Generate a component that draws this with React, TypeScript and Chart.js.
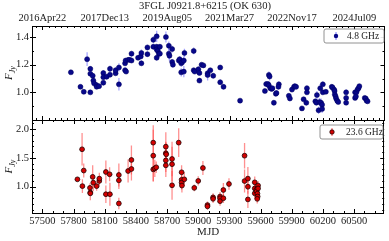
import React, { useEffect, useRef } from 'react';
import { Chart, registerables } from 'chart.js';
Chart.register(...registerables);

const TITLE = '3FGL J0921.8+6215 (OK 630)';
const X_MIN = 57400;
const X_MAX = 60790;
const MJD_TICKS = [57500, 57800, 58100, 58400, 58700, 59000, 59300, 59600, 59900, 60200, 60500];
const DATE_TICKS = [57500, 58100, 58700, 59300, 59900, 60500];
const DATE_LABELS = ['2016Apr22', '2017Dec13', '2019Aug05', '2021Mar27', '2022Nov17', '2024Jul09'];
const TOP_Y_TICKS = [1.0, 1.2, 1.4];
const TOP_Y_MINOR = [0.9, 1.1, 1.3];
const BOT_Y_TICKS = [1.0, 1.5, 2.0];
const BOT_Y_MINOR = [0.6, 0.7, 0.8, 0.9, 1.1, 1.2, 1.3, 1.4, 1.6, 1.7, 1.8, 1.9, 2.1];

// 4.8 GHz
const mjd48 = [57774, 57866, 57898, 57930, 57961, 57961, 57961, 57984, 57990, 57997, 58019, 58022, 58045, 58086, 58086, 58086, 58118, 58150, 58150, 58204, 58204, 58236, 58236, 58295, 58300, 58295, 58305, 58325, 58340, 58357, 58357, 58420, 58446, 58452, 58452, 58510, 58510, 58567, 58567, 58599, 58599, 58599, 58599, 58610, 58620, 58630, 58630, 58688, 58716, 58716, 58722, 58748, 58748, 58755, 58812, 58820, 58835, 58844, 58835, 58860, 58866, 58860, 58955, 58955, 58965, 59000, 59010, 59010, 59031, 59048, 59089, 59089, 59115, 59143, 59210, 59210, 59242, 59401, 59640, 59652, 59670, 59678, 59685, 59678, 59692, 59705, 59712, 59726, 59745, 59751, 59774, 59770, 59870, 59880, 59900, 59920, 59928, 59940, 59996, 60012, 60038, 60044, 60044, 60125, 60135, 60140, 60156, 60172, 60165, 60180, 60190, 60190, 60197, 60197, 60226, 60283, 60290, 60305, 60310, 60312, 60320, 60325, 60335, 60345, 60421, 60421, 60421, 60507, 60520, 60530, 60540, 60548, 60507, 60515, 60600, 60610, 60618, 60627];
const flux48 = [1.145, 1.04, 1.004, 1.24, 1.17, 1.135, 1.0, 1.12, 1.085, 1.065, 1.053, 1.04, 1.045, 1.07, 1.14, 1.11, 1.113, 1.17, 1.128, 1.138, 1.16, 1.18, 1.058, 1.21, 1.23, 1.16, 1.15, 1.235, 1.235, 1.28, 1.23, 1.25, 1.26, 1.285, 1.21, 1.276, 1.325, 1.38, 1.33, 1.405, 1.33, 1.31, 1.25, 1.3, 1.28, 1.33, 1.28, 1.4, 1.337, 1.28, 1.265, 1.313, 1.22, 1.2, 1.23, 1.24, 1.21, 1.22, 1.145, 1.15, 1.285, 1.23, 1.3, 1.16, 1.15, 1.167, 1.14, 1.085, 1.2, 1.195, 1.138, 1.125, 1.16, 1.12, 1.18, 1.073, 1.04, 0.94, 1.01, 1.06, 1.06, 1.126, 1.115, 1.05, 1.03, 1.025, 1.03, 0.925, 0.99, 0.995, 1.058, 1.04, 0.975, 0.956, 1.02, 1.04, 1.045, 1.04, 0.884, 0.95, 0.925, 1.03, 1.0, 0.935, 0.925, 0.98, 0.87, 1.03, 0.93, 0.925, 0.91, 0.88, 1.058, 1.0, 1.004, 1.04, 1.035, 1.02, 1.01, 0.985, 0.97, 0.955, 0.94, 0.93, 1.0, 0.96, 0.925, 1.0, 1.0, 1.02, 1.03, 1.045, 0.96, 0.97, 0.96, 0.955, 0.94, 0.935];
const err48 = [0.01, 0.01, 0.01, 0.05, 0.02, 0.02, 0.015, 0.02, 0.02, 0.02, 0.015, 0.015, 0.01, 0.02, 0.02, 0.015, 0.02, 0.025, 0.02, 0.015, 0.02, 0.03, 0.045, 0.02, 0.015, 0.02, 0.015, 0.015, 0.01, 0.02, 0.015, 0.015, 0.02, 0.025, 0.02, 0.02, 0.02, 0.025, 0.02, 0.04, 0.02, 0.02, 0.02, 0.03, 0.03, 0.02, 0.02, 0.04, 0.03, 0.04, 0.04, 0.025, 0.02, 0.02, 0.02, 0.02, 0.025, 0.02, 0.03, 0.04, 0.03, 0.03, 0.025, 0.015, 0.015, 0.02, 0.015, 0.015, 0.01, 0.01, 0.02, 0.04, 0.015, 0.02, 0.015, 0.02, 0.02, 0.015, 0.015, 0.02, 0.02, 0.025, 0.03, 0.02, 0.015, 0.015, 0.015, 0.02, 0.02, 0.02, 0.02, 0.02, 0.015, 0.02, 0.02, 0.02, 0.02, 0.02, 0.01, 0.015, 0.02, 0.02, 0.02, 0.015, 0.015, 0.03, 0.025, 0.03, 0.03, 0.03, 0.02, 0.03, 0.02, 0.02, 0.015, 0.015, 0.015, 0.015, 0.02, 0.015, 0.015, 0.015, 0.015, 0.015, 0.02, 0.02, 0.015, 0.015, 0.015, 0.015, 0.015, 0.015, 0.015, 0.015, 0.015, 0.015, 0.015, 0.015];

// 23.6 GHz
const mjd236 = [57837, 57882, 57885, 57898, 57958, 57961, 57961, 57984, 57990, 58022, 58048, 58048, 58111, 58111, 58147, 58150, 58236, 58236, 58236, 58325, 58357, 58357, 58567, 58567, 58567, 58582, 58596, 58688, 58688, 58692, 58688, 58688, 58748, 58748, 58748, 58812, 58840, 58840, 58840, 58843, 58866, 58962, 59000, 59045, 59089, 59089, 59143, 59143, 59210, 59210, 59210, 59242, 59242, 59296, 59446, 59446, 59478, 59478, 59478, 59544, 59544, 59544, 59560, 59562, 59570, 59572, 59576, 59576, 59568];
const flux236 = [1.128, 1.648, 1.01, 1.28, 0.98, 0.9, 0.885, 1.17, 1.07, 1.01, 1.1, 1.14, 1.255, 0.87, 1.215, 0.87, 1.203, 1.11, 0.71, 1.272, 1.307, 1.463, 1.763, 1.537, 1.3, 1.317, 1.336, 1.693, 1.58, 1.56, 1.455, 1.37, 1.48, 1.39, 1.024, 1.763, 1.25, 1.12, 1.07, 1.02, 1.128, 0.98, 1.1, 1.324, 0.683, 0.66, 0.816, 0.79, 0.83, 0.8, 0.75, 0.943, 0.8, 1.047, 1.537, 1.098, 1.14, 1.0, 0.78, 1.076, 0.97, 0.885, 0.95, 0.92, 0.88, 0.83, 1.02, 0.97, 0.79];
const err236 = [0.03, 0.28, 0.12, 0.12, 0.08, 0.06, 0.12, 0.2, 0.15, 0.08, 0.08, 0.1, 0.2, 0.15, 0.12, 0.2, 0.2, 0.15, 0.1, 0.2, 0.2, 0.25, 0.3, 0.45, 0.2, 0.15, 0.1, 0.25, 0.2, 0.2, 0.2, 0.2, 0.3, 0.3, 0.25, 0.25, 0.12, 0.12, 0.12, 0.12, 0.12, 0.06, 0.08, 0.12, 0.06, 0.06, 0.07, 0.07, 0.08, 0.08, 0.08, 0.12, 0.08, 0.1, 0.22, 0.2, 0.2, 0.12, 0.15, 0.1, 0.1, 0.1, 0.08, 0.08, 0.08, 0.08, 0.08, 0.08, 0.08];

const FONT = 'Liberation Serif';
const TXT = '#222';

const errorBarPlugin = {
  id: 'errbars',
  beforeDatasetsDraw(chart: any) {
    const { ctx, chartArea } = chart;
    const xs = chart.scales.x;
    const ys = chart.scales.y;
    ctx.save();
    ctx.beginPath();
    ctx.rect(chartArea.left, chartArea.top, chartArea.right - chartArea.left, chartArea.bottom - chartArea.top);
    ctx.clip();
    chart.data.datasets.forEach((ds: any) => {
      if (!ds.errors) return;
      ctx.strokeStyle = ds.errColor;
      ctx.lineWidth = 1.3;
      ds.data.forEach((p: any, i: number) => {
        const e = ds.errors[i];
        const x = xs.getPixelForValue(p.x);
        ctx.beginPath();
        ctx.moveTo(x, ys.getPixelForValue(p.y - e));
        ctx.lineTo(x, ys.getPixelForValue(p.y + e));
        ctx.stroke();
      });
    });
    ctx.restore();
  },
};

const framePlugin = {
  id: 'frame',
  afterDraw(chart: any, _args: any, opts: any) {
    const { ctx, chartArea: a } = chart;
    const xs = chart.scales.x;
    const ys = chart.scales.y;
    ctx.save();
    ctx.strokeStyle = '#000';
    ctx.lineWidth = 1;
    const tick = (vals: number[], len: number, isX: boolean, out: number) => {
      vals.forEach((v) => {
        if (isX) {
          const x = Math.round(xs.getPixelForValue(v)) + 0.5;
          if (x < a.left || x > a.right) return;
          ctx.beginPath();
          ctx.moveTo(x, a.top); ctx.lineTo(x, a.top + len);
          ctx.moveTo(x, a.bottom); ctx.lineTo(x, a.bottom - len);
          ctx.stroke();
        } else {
          const y = Math.round(ys.getPixelForValue(v)) + 0.5;
          if (y < a.top || y > a.bottom) return;
          ctx.beginPath();
          ctx.moveTo(a.left - out, y); ctx.lineTo(a.left + len, y);
          ctx.moveTo(a.right, y); ctx.lineTo(a.right - len, y);
          ctx.stroke();
        }
      });
    };
    tick(opts.xMinor, 2, true, 0);
    tick(opts.xMajor, 4, true, 0);
    tick(opts.yMinor, 2, false, 0);
    tick(opts.yMajor, 4, false, 2);
    ctx.strokeRect(Math.round(a.left) + 0.5, Math.round(a.top) + 0.5, Math.round(a.right - a.left) - 1, Math.round(a.bottom - a.top));
    // y-axis label F_Jy
    const cy = (a.top + a.bottom) / 2;
    ctx.translate(12, cy);
    ctx.rotate(-Math.PI / 2);
    ctx.fillStyle = TXT;
    ctx.textBaseline = 'alphabetic';
    ctx.font = `italic 11px "${FONT}"`;
    const wF = ctx.measureText('F').width;
    ctx.font = `italic 8px "${FONT}"`;
    const wJ = ctx.measureText('Jy').width;
    const x0 = -(wF + wJ) / 2;
    ctx.font = `italic 11px "${FONT}"`;
    ctx.fillText('F', x0, 0);
    ctx.font = `italic 8px "${FONT}"`;
    ctx.fillText('Jy', x0 + wF, 3);
    ctx.setTransform(1, 0, 0, 1, 0, 0);
    // title
    if (opts.title) {
      ctx.font = `10.6px "${FONT}"`;
      ctx.textAlign = 'center';
      ctx.fillText(opts.title, 205, 9);
    }
    // legend
    const L = opts.legend;
    const lx = L.x, ly = L.y, lw = L.w, lh = L.h, r = 2;
    ctx.beginPath();
    ctx.moveTo(lx + r, ly);
    ctx.lineTo(lx + lw - r, ly);
    ctx.quadraticCurveTo(lx + lw, ly, lx + lw, ly + r);
    ctx.lineTo(lx + lw, ly + lh - r);
    ctx.quadraticCurveTo(lx + lw, ly + lh, lx + lw - r, ly + lh);
    ctx.lineTo(lx + r, ly + lh);
    ctx.quadraticCurveTo(lx, ly + lh, lx, ly + lh - r);
    ctx.lineTo(lx, ly + r);
    ctx.quadraticCurveTo(lx, ly, lx + r, ly);
    ctx.fillStyle = 'rgba(255,255,255,0.9)';
    ctx.fill();
    ctx.strokeStyle = '#777';
    ctx.lineWidth = 0.8;
    ctx.stroke();
    const mx = L.mx, my = ly + lh / 2;
    ctx.strokeStyle = L.errColor;
    ctx.lineWidth = 1.3;
    ctx.beginPath();
    ctx.moveTo(mx, my - 4); ctx.lineTo(mx, my + 4);
    ctx.stroke();
    ctx.beginPath();
    ctx.arc(mx, my, 2.2, 0, Math.PI * 2);
    ctx.fillStyle = L.fill;
    ctx.fill();
    if (L.border) { ctx.strokeStyle = L.border; ctx.lineWidth = 0.8; ctx.stroke(); }
    ctx.fillStyle = TXT;
    ctx.font = `9.5px "${FONT}"`;
    ctx.textAlign = 'left';
    ctx.textBaseline = 'middle';
    ctx.fillText(L.text, L.tx, my + 0.5);
    ctx.restore();
  },
};

function range(start: number, end: number, step: number) {
  const out: number[] = [];
  for (let v = start; v <= end + 1e-9; v += step) out.push(+v.toFixed(6));
  return out;
}

export default function App() {
  const topRef = useRef<HTMLCanvasElement>(null);
  const botRef = useRef<HTMLCanvasElement>(null);

  useEffect(() => {
    const font = { family: FONT, size: 10.5 };
    const yAxis = (min: number, max: number, ticks: number[]) => ({
      type: 'linear',
      position: 'left',
      min,
      max,
      afterBuildTicks: (s: any) => { s.ticks = ticks.map((v) => ({ value: v })); },
      afterFit: (s: any) => { s.width = 32; },
      ticks: { font, color: TXT, padding: 3, callback: (v: any) => Number(v).toFixed(1) },
      grid: { display: false, drawTicks: false },
      border: { display: false },
    });

    const top = new Chart(topRef.current as HTMLCanvasElement, {
      type: 'scatter',
      data: {
        datasets: [{
          label: '4.8 GHz',
          data: mjd48.map((x, i) => ({ x, y: flux48[i] })),
          errors: err48,
          errColor: 'rgba(110,110,255,0.6)',
          pointRadius: 2.5,
          pointBackgroundColor: '#08088a',
          pointBorderColor: '#000060',
          pointBorderWidth: 0.5,
        } as any],
      },
      options: {
        animation: false,
        responsive: false,
        devicePixelRatio: 1,
        layout: { padding: { top: 0, left: 0, right: 3, bottom: 121 } },
        scales: {
          x: {
            type: 'linear',
            position: 'top',
            min: X_MIN,
            max: X_MAX,
            afterBuildTicks: (s: any) => { s.ticks = DATE_TICKS.map((v) => ({ value: v })); },
            afterFit: (s: any) => { s.height = 26; },
            ticks: {
              font, color: TXT, padding: 1.5, maxRotation: 0, autoSkip: false,
              callback: (v: any) => DATE_LABELS[DATE_TICKS.indexOf(Number(v))] ?? '',
            },
            grid: { display: false, drawTicks: false },
            border: { display: false },
          },
          y: yAxis(0.8, 1.48, TOP_Y_TICKS),
        } as any,
        plugins: {
          legend: { display: false },
          tooltip: { enabled: false },
          frame: {
            xMajor: DATE_TICKS,
            xMinor: range(57440, 60780, 60),
            yMajor: TOP_Y_TICKS,
            yMinor: TOP_Y_MINOR,
            title: TITLE,
            legend: { x: 324, y: 29, w: 60, h: 14, mx: 336, tx: 347, text: '4.8 GHz', fill: '#08088a', errColor: 'rgba(110,110,255,0.7)' },
          },
        } as any,
      },
      plugins: [errorBarPlugin, framePlugin],
    });

    const bot = new Chart(botRef.current as HTMLCanvasElement, {
      type: 'scatter',
      data: {
        datasets: [{
          label: '23.6 GHz',
          data: mjd236.map((x, i) => ({ x, y: flux236[i] })),
          errors: err236,
          errColor: 'rgba(255,70,70,0.6)',
          pointRadius: 2.4,
          pointBackgroundColor: '#d40000',
          pointBorderColor: '#220000',
          pointBorderWidth: 0.8,
        } as any],
      },
      options: {
        animation: false,
        responsive: false,
        devicePixelRatio: 1,
        layout: { padding: { top: 120, left: 0, right: 3, bottom: 0 } },
        scales: {
          x: {
            type: 'linear',
            position: 'bottom',
            min: X_MIN,
            max: X_MAX,
            afterBuildTicks: (s: any) => { s.ticks = MJD_TICKS.map((v) => ({ value: v })); },
            afterFit: (s: any) => { s.height = 28; },
            ticks: { font, color: TXT, padding: 2, maxRotation: 0, autoSkip: false, callback: (v: any) => String(v) },
            title: { display: true, text: 'MJD', font: { family: FONT, size: 11 }, color: TXT, padding: { top: 0, bottom: 2 } },
            grid: { display: false, drawTicks: false },
            border: { display: false },
          },
          y: yAxis(0.545, 2.155, BOT_Y_TICKS),
        } as any,
        plugins: {
          legend: { display: false },
          tooltip: { enabled: false },
          frame: {
            xMajor: MJD_TICKS,
            xMinor: range(57400, 60700, 100),
            yMajor: BOT_Y_TICKS,
            yMinor: BOT_Y_MINOR,
            legend: { x: 320, y: 125, w: 63, h: 14, mx: 332, tx: 346, text: '23.6 GHz', fill: '#d40000', border: '#220000', errColor: 'rgba(255,70,70,0.7)' },
          },
        } as any,
      },
      plugins: [errorBarPlugin, framePlugin],
    });

    return () => { top.destroy(); bot.destroy(); };
  }, []);

  return (
    <div style={{ position: 'fixed', left: 0, top: 0, width: 389, height: 241, background: '#fff' }}>
      <canvas ref={botRef} width={389} height={241} style={{ position: 'absolute', left: 0, top: 0, width: 389, height: 241 }} />
      <canvas ref={topRef} width={389} height={241} style={{ position: 'absolute', left: 0, top: 0, width: 389, height: 241 }} />
    </div>
  );
}
